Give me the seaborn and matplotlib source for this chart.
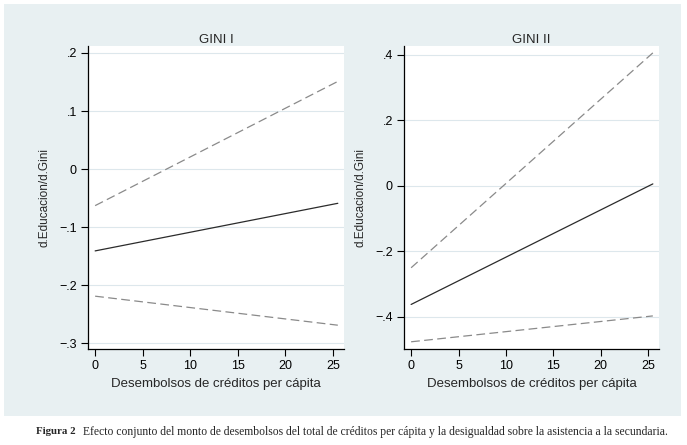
import matplotlib
matplotlib.use("Agg")
import pandas as pd
import seaborn as sns
from matplotlib import pyplot as plt
from matplotlib.patches import Rectangle

# Desembolsos de creditos per capita (endpoints of the fitted lines)
desembolsos = [0, 25.5]

# GINI I
gini1_upper = [-0.063, 0.151]
gini1_effect = [-0.141, -0.059]
gini1_lower = [-0.219, -0.269]

# GINI II
gini2_upper = [-0.250, 0.406]
gini2_effect = [-0.362, 0.006]
gini2_lower = [-0.476, -0.397]

titles = ["GINI I", "GINI II"]
yticks1 = [-0.3, -0.2, -0.1, 0, 0.1, 0.2]
yticks2 = [-0.4, -0.2, 0, 0.2, 0.4]
xticks = [0, 5, 10, 15, 20, 25]

BG = "#e8f0f2"
GRID = "#dde7ec"


def tick_label(v):
    if abs(v) < 1e-9:
        return "0"
    s = f"{v:.1f}"
    s = s.replace("0.", ".")
    return s.replace("-", "\u2212")


def draw_panel(ax, upper, effect, lower, title, yticks, ylim):
    df = pd.DataFrame({"x": desembolsos, "upper": upper,
                       "effect": effect, "lower": lower})
    sns.lineplot(data=df, x="x", y="upper", ax=ax, color="#8a8a8a",
                 linewidth=0.9, linestyle=(0, (7, 3.5)))
    sns.lineplot(data=df, x="x", y="effect", ax=ax, color="#2b2b2b",
                 linewidth=0.9)
    sns.lineplot(data=df, x="x", y="lower", ax=ax, color="#8a8a8a",
                 linewidth=0.9, linestyle=(0, (7, 3.5)))
    ax.set_facecolor("white")
    ax.set_xlim(-0.75, 26.15)
    ax.set_ylim(*ylim)
    ax.set_xticks(xticks)
    ax.set_yticks(yticks)
    ax.set_yticklabels([tick_label(v) for v in yticks])
    ax.grid(False)
    for v in yticks:
        ax.axhline(v, color=GRID, linewidth=0.8, zorder=0)
    for side in ["top", "right"]:
        ax.spines[side].set_visible(False)
    for side in ["left", "bottom"]:
        ax.spines[side].set_color("black")
        ax.spines[side].set_linewidth(0.9)
    ax.tick_params(axis="both", direction="out", length=5, width=0.8,
                   colors="black", labelsize=9, pad=3,
                   bottom=True, left=True)
    ax.set_xlabel("Desembolsos de créditos per cápita", fontsize=9.5,
                  labelpad=4)
    ax.set_ylabel("d.Educacion/d.Gini", fontsize=8.5, labelpad=6)
    ax.set_title(title, fontsize=9.5, pad=2)


sns.set_theme(style="white")
plt.rcParams["font.family"] = ["Liberation Sans", "DejaVu Sans"]

fig = plt.figure(figsize=(6.87, 4.45), dpi=100, facecolor="white")
fig.patches.append(Rectangle((4 / 687, 1 - 416 / 445), 677 / 687, 412 / 445,
                             transform=fig.transFigure, facecolor=BG,
                             edgecolor="none", zorder=-10))

ax1 = fig.add_axes([88 / 687, 96 / 445, 256 / 687, 303 / 445])
ax2 = fig.add_axes([404 / 687, 96 / 445, 255 / 687, 303 / 445])
ax1.set_zorder(2)
ax2.set_zorder(2)

draw_panel(ax1, gini1_upper, gini1_effect, gini1_lower, titles[0],
           yticks1, (-0.310, 0.212))
draw_panel(ax2, gini2_upper, gini2_effect, gini2_lower, titles[1],
           yticks2, (-0.498, 0.427))

fig.text(36 / 687, 1 - 432 / 445, "Figura 2", fontsize=7.8,
         fontweight="bold", family="Liberation Serif", va="center")
fig.text(83 / 687, 1 - 432 / 445,
         "Efecto conjunto del monto de desembolsos del total de créditos "
         "per cápita y la desigualdad sobre la asistencia a la secundaria.",
         fontsize=8.4, family="Liberation Serif", va="center")

fig.savefig("out.png", dpi=100, facecolor="white")
